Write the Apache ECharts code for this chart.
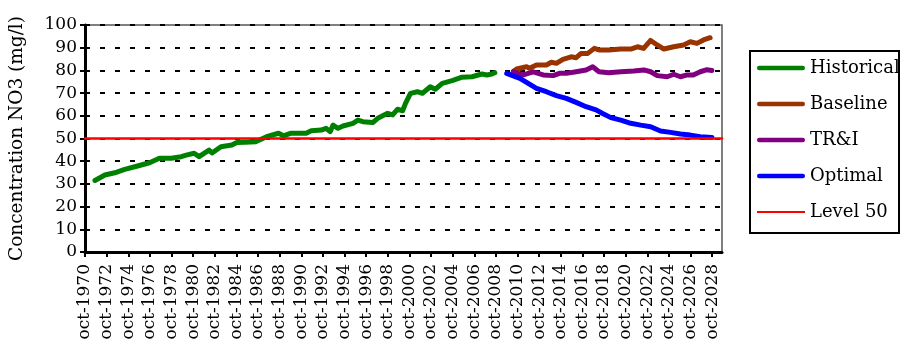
<!DOCTYPE html>
<html>
<head>
<meta charset="utf-8">
<script src="https://cdn.jsdelivr.net/npm/echarts@6/dist/echarts.min.js"></script>
<style>
  html, body { margin: 0; padding: 0; background: #fff; }
  #chart { width: 901px; height: 347px; }
</style>
</head>
<body>
<div id="chart"></div>
<script>
// Tick labels: every second October, 1970–2028
const tickYears = [1970, 1972, 1974, 1976, 1978, 1980, 1982, 1984, 1986, 1988,
  1990, 1992, 1994, 1996, 1998, 2000, 2002, 2004, 2006, 2008,
  2010, 2012, 2014, 2016, 2018, 2020, 2022, 2024, 2026, 2028];

// Observed nitrate concentration (decimal year, mg/l)
const historicalYears = [1971.67, 1972.59, 1973.5, 1974.42, 1975.61, 1976.72, 1977.63, 1978.73,
  1979.65, 1980.11, 1980.84, 1981.3, 1982.22, 1982.5, 1983.32, 1984.33, 1984.79, 1985.6,
  1986.53, 1987.54, 1988.65, 1989.1, 1989.75, 1991.2, 1991.67, 1992.59, 1993.05, 1993.42,
  1993.69, 1994.15, 1994.61, 1995.53, 1995.99, 1996.45, 1997.36, 1997.82, 1998.74, 1999.2,
  1999.66, 2000.12, 2000.39, 2000.85, 2001.49, 2001.95, 2002.68, 2003.14, 2003.79, 2004.7,
  2005.62, 2006.54, 2007.46, 2007.92, 2008.37, 2008.65];
const historicalValues = [31.5, 33.9, 34.9, 36.4, 37.9, 39.3, 41.3, 41.3,
  42.0, 42.7, 43.5, 42.0, 44.9, 43.6, 46.4, 47.1, 48.2, 48.4,
  48.6, 50.8, 52.3, 51.2, 52.3, 52.3, 53.4, 53.7, 54.5, 53.0,
  55.9, 54.5, 55.5, 56.7, 58.1, 57.4, 57.0, 58.9, 61.1, 60.4,
  62.9, 62.2, 65.5, 69.9, 70.6, 69.9, 72.8, 71.7, 74.3, 75.5,
  77.0, 77.2, 78.4, 78.0, 78.4, 79.0];

// Scenario projections
const baselineYears = [2010.37, 2010.67, 2011.59, 2011.86, 2012.5, 2013.42, 2013.88, 2014.34,
  2014.95, 2015.71, 2016.17, 2016.63, 2017.25, 2017.85, 2018.28, 2019.2, 2020.3, 2021.22,
  2021.84, 2022.41, 2023.06, 2023.67, 2024.28, 2025.2, 2026.11, 2026.73, 2027.34, 2027.95, 2028.56];
const baselineValues = [79.6, 80.6, 81.6, 80.9, 82.4, 82.4, 83.6, 83.1,
  84.9, 86.0, 85.6, 87.5, 87.5, 89.7, 89.0, 89.0, 89.4, 89.4,
  90.4, 89.7, 93.2, 91.2, 89.4, 90.4, 91.2, 92.6, 91.9, 93.4, 94.4];

const triYears = [2010.37, 2011.28, 2012.2, 2013.12, 2014.04, 2014.62, 2015.26, 2016.17,
  2017.09, 2017.7, 2018.28, 2019.2, 2020.3, 2021.5, 2022.43, 2023.06, 2023.67, 2024.59,
  2025.2, 2025.82, 2026.43, 2027.0, 2027.65, 2028.27, 2028.72];
const triValues = [79.4, 78.0, 79.4, 78.0, 77.7, 78.7, 78.7, 79.4,
  80.2, 81.6, 79.4, 79.0, 79.4, 79.7, 80.2, 79.4, 77.7, 77.2,
  78.3, 77.2, 78.0, 78.0, 79.4, 80.3, 80.0];

const optimalYears = [2009.75, 2009.9, 2010.97, 2011.74, 2012.5, 2013.42, 2014.34, 2015.26,
  2016.17, 2017.09, 2018.01, 2018.62, 2019.38, 2020.3, 2021.22, 2022.14, 2023.06, 2023.98,
  2024.9, 2025.82, 2026.73, 2027.65, 2028.72];
const optimalValues = [78.7, 79.0, 76.5, 74.3, 72.1, 70.6, 68.9, 67.7,
  65.9, 64.0, 62.6, 61.0, 59.2, 58.1, 56.7, 55.9, 55.2, 53.3,
  52.7, 52.0, 51.5, 50.8, 50.4];

// Regulatory limit
const levelValue = 50;

const xMin = 1970.75;   // October 1970
const xMax = 2029.66;
const serif = 'DejaVu Serif';

// Legend swatches: a thick rounded bar for the model series, a thin rule for the limit
const thickBar = 'path://M2,0 L46,0 A2.25,2.25 0 0 1 46,4.5 L2,4.5 A2.25,2.25 0 0 1 2,0 Z';
const thinBar = 'path://M0,0 L48,0 L48,2 L0,2 Z';

const zip = (xs, ys) => xs.map((x, i) => [x, ys[i]]);

const seriesDefs = [
  { name: 'Historical', color: '#008000', width: 5, icon: thickBar, data: zip(historicalYears, historicalValues) },
  { name: 'Baseline', color: '#993300', width: 5, icon: thickBar, data: zip(baselineYears, baselineValues) },
  { name: 'TR&I', color: '#800080', width: 5, icon: thickBar, data: zip(triYears, triValues) },
  { name: 'Optimal', color: '#0000ff', width: 5, icon: thickBar, data: zip(optimalYears, optimalValues) },
  { name: 'Level 50', color: '#ff0000', width: 2.5, icon: thinBar, data: [[xMin, levelValue], [xMax, levelValue]] }
];

const chart = echarts.init(document.getElementById('chart'), null, { renderer: 'canvas' });

chart.setOption({
  animation: false,
  backgroundColor: '#fff',
  grid: {
    left: 80, top: 25, right: 179, bottom: 95,
    show: true, borderColor: '#555', borderWidth: 1.5, backgroundColor: 'transparent'
  },
  xAxis: {
    type: 'value',
    min: xMin,
    max: xMax,
    axisLine: { show: true, onZero: false, lineStyle: { color: '#000', width: 3 } },
    axisTick: {
      show: true, length: 5, inside: false,
      customValues: tickYears.map(y => y + 0.75),
      lineStyle: { color: '#000', width: 2 }
    },
    axisLabel: {
      customValues: tickYears.map(y => y + 0.75),
      rotate: 90,
      margin: 12,
      fontFamily: serif,
      fontSize: 17,
      color: '#000',
      formatter: v => 'oct-' + Math.round(v - 0.75)
    },
    splitLine: { show: false }
  },
  yAxis: {
    type: 'value',
    min: 0,
    max: 100,
    interval: 10,
    name: 'Concentration NO3 (mg/l)',
    nameLocation: 'middle',
    nameGap: 58,
    nameTextStyle: { fontFamily: serif, fontSize: 18.5, color: '#000' },
    axisLine: { show: true, lineStyle: { color: '#000', width: 3 } },
    axisTick: { show: true, length: 5, lineStyle: { color: '#000', width: 2 } },
    axisLabel: { fontFamily: serif, fontSize: 17, color: '#000', margin: 8 },
    splitLine: { show: true, lineStyle: { color: '#000', width: 2, type: [5, 10] } }
  },
  legend: {
    orient: 'vertical',
    left: 757,
    top: 59,
    padding: 0,
    itemWidth: 48,
    itemHeight: 18,
    itemGap: 18,
    symbolKeepAspect: true,
    textStyle: { fontFamily: serif, fontSize: 18, color: '#000', lineHeight: 18 },
    data: seriesDefs.map(s => ({ name: s.name, icon: s.icon, itemStyle: { color: s.color } }))
  },
  graphic: [{
    type: 'rect',
    shape: { x: 750, y: 51, width: 149, height: 182 },
    style: { fill: 'transparent', stroke: '#000', lineWidth: 2 },
    silent: true,
    z: -1
  }],
  series: seriesDefs.map(s => ({
    name: s.name,
    type: 'line',
    data: s.data,
    symbol: 'none',
    color: s.color,
    lineStyle: { color: s.color, width: s.width, cap: 'round', join: 'round' },
    clip: true
  }))
});
</script>
</body>
</html>
